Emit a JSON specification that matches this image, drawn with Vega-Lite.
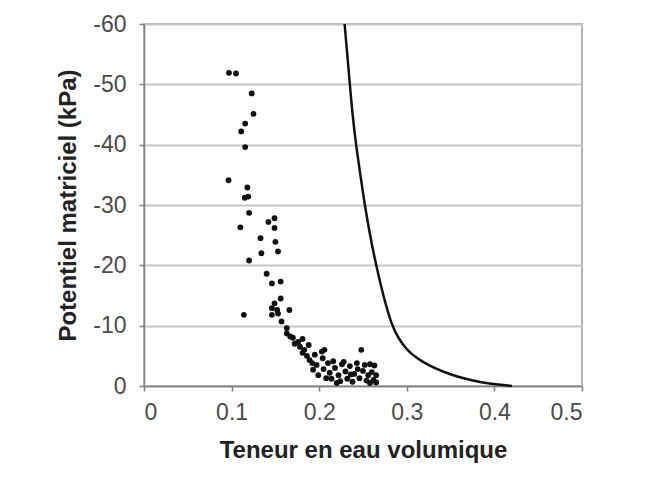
{
  "$schema": "https://vega.github.io/schema/vega-lite/v6.json",
  "autosize": "none",
  "width": 438,
  "height": 362,
  "padding": {"left": 144, "top": 24, "right": 68, "bottom": 105},
  "background": "white",
  "config": {
    "view": {"stroke": "#b4b4b4", "strokeWidth": 2},
    "font": "Liberation Sans",
    "axis": {
      "labelFont": "Liberation Sans",
      "titleFont": "Liberation Sans",
      "labelFontSize": 23,
      "titleFontSize": 24,
      "labelColor": "#4a4a4a",
      "titleColor": "#222222",
      "titleFontWeight": "bold",
      "domainColor": "#808080",
      "domainWidth": 1.5,
      "tickColor": "#808080",
      "tickWidth": 1.5,
      "tickSize": 5,
      "gridColor": "#c4c4c4",
      "gridWidth": 2
    }
  },
  "datasets": {
    "mesures": [
      {"theta": 0.097, "psi": -51.9}, {"theta": 0.105, "psi": -51.8}, {"theta": 0.123, "psi": -48.5},
      {"theta": 0.125, "psi": -45.1}, {"theta": 0.1155, "psi": -43.5}, {"theta": 0.111, "psi": -42.2},
      {"theta": 0.1155, "psi": -39.6}, {"theta": 0.0965, "psi": -34.1}, {"theta": 0.118, "psi": -32.9},
      {"theta": 0.119, "psi": -31.4}, {"theta": 0.115, "psi": -31.2}, {"theta": 0.12, "psi": -28.7},
      {"theta": 0.11, "psi": -26.3}, {"theta": 0.142, "psi": -27.2}, {"theta": 0.149, "psi": -27.8},
      {"theta": 0.149, "psi": -26.2}, {"theta": 0.133, "psi": -24.5}, {"theta": 0.150, "psi": -23.9},
      {"theta": 0.153, "psi": -22.3}, {"theta": 0.134, "psi": -22.0}, {"theta": 0.120, "psi": -20.8},
      {"theta": 0.140, "psi": -18.6}, {"theta": 0.146, "psi": -17.0}, {"theta": 0.156, "psi": -17.3},
      {"theta": 0.156, "psi": -14.5}, {"theta": 0.149, "psi": -13.7}, {"theta": 0.166, "psi": -12.6},
      {"theta": 0.146, "psi": -12.9}, {"theta": 0.152, "psi": -12.6}, {"theta": 0.114, "psi": -11.8},
      {"theta": 0.146, "psi": -11.8}, {"theta": 0.153, "psi": -12.0}, {"theta": 0.157, "psi": -10.7},
      {"theta": 0.163, "psi": -9.6}, {"theta": 0.163, "psi": -8.7}, {"theta": 0.170, "psi": -8.0},
      {"theta": 0.176, "psi": -7.3}, {"theta": 0.181, "psi": -7.8}, {"theta": 0.188, "psi": -6.8},
      {"theta": 0.183, "psi": -6.0}, {"theta": 0.181, "psi": -5.5}, {"theta": 0.189, "psi": -4.3},
      {"theta": 0.195, "psi": -5.2}, {"theta": 0.203, "psi": -5.7}, {"theta": 0.204, "psi": -4.6},
      {"theta": 0.193, "psi": -2.7}, {"theta": 0.197, "psi": -3.5}, {"theta": 0.199, "psi": -1.8},
      {"theta": 0.206, "psi": -6.0}, {"theta": 0.210, "psi": -3.8}, {"theta": 0.212, "psi": -2.2},
      {"theta": 0.214, "psi": -1.2}, {"theta": 0.218, "psi": -3.0}, {"theta": 0.222, "psi": -1.8},
      {"theta": 0.224, "psi": -0.8}, {"theta": 0.226, "psi": -3.6}, {"theta": 0.230, "psi": -2.4},
      {"theta": 0.232, "psi": -1.2}, {"theta": 0.235, "psi": -3.3}, {"theta": 0.238, "psi": -0.7},
      {"theta": 0.240, "psi": -2.0}, {"theta": 0.243, "psi": -3.8}, {"theta": 0.246, "psi": -1.3},
      {"theta": 0.248, "psi": -6.0}, {"theta": 0.250, "psi": -2.5}, {"theta": 0.252, "psi": -3.5},
      {"theta": 0.254, "psi": -0.9}, {"theta": 0.256, "psi": -1.8}, {"theta": 0.258, "psi": -3.6},
      {"theta": 0.260, "psi": -2.3}, {"theta": 0.262, "psi": -1.0}, {"theta": 0.263, "psi": -3.4},
      {"theta": 0.265, "psi": -1.8}, {"theta": 0.265, "psi": -0.6}, {"theta": 0.205, "psi": -2.8},
      {"theta": 0.208, "psi": -1.3}, {"theta": 0.216, "psi": -4.1}, {"theta": 0.228, "psi": -4.0},
      {"theta": 0.244, "psi": -2.8}, {"theta": 0.258, "psi": -0.5}, {"theta": 0.236, "psi": -1.9},
      {"theta": 0.220, "psi": -0.5}, {"theta": 0.186, "psi": -5.0}, {"theta": 0.192, "psi": -3.8},
      {"theta": 0.178, "psi": -6.5}, {"theta": 0.172, "psi": -7.0}, {"theta": 0.167, "psi": -8.2}
    ],
    "modele": [
      {"theta": 0.229, "psi": -60}, {"theta": 0.232, "psi": -55}, {"theta": 0.235, "psi": -50},
      {"theta": 0.238, "psi": -45}, {"theta": 0.242, "psi": -40}, {"theta": 0.247, "psi": -35},
      {"theta": 0.252, "psi": -30}, {"theta": 0.258, "psi": -25}, {"theta": 0.265, "psi": -20},
      {"theta": 0.273, "psi": -15}, {"theta": 0.283, "psi": -10}, {"theta": 0.29, "psi": -8},
      {"theta": 0.3, "psi": -6}, {"theta": 0.308, "psi": -5}, {"theta": 0.318, "psi": -4},
      {"theta": 0.331, "psi": -3}, {"theta": 0.348, "psi": -2}, {"theta": 0.366, "psi": -1.2},
      {"theta": 0.385, "psi": -0.6}, {"theta": 0.405, "psi": -0.2}, {"theta": 0.42, "psi": 0}
    ]
  },
  "encoding": {
    "x": {
      "field": "theta", "type": "quantitative",
      "scale": {"domain": [0, 0.5], "nice": false},
      "axis": {
        "title": "Teneur en eau volumique",
        "values": [0, 0.1, 0.2, 0.3, 0.4, 0.5],
        "format": "~g",
        "grid": false,
        "labelPadding": 10,
        "titlePadding": 14
      }
    },
    "y": {
      "field": "psi", "type": "quantitative",
      "scale": {"domain": [0, -60], "nice": false},
      "axis": {
        "title": "Potentiel matriciel (kPa)",
        "values": [0, -10, -20, -30, -40, -50, -60],
        "labelExpr": "replace(datum.label, '\u2212', '-')",
        "grid": true,
        "labelPadding": 13,
        "titlePadding": 12
      }
    }
  },
  "layer": [
    {
      "data": {"name": "mesures"},
      "mark": {"type": "circle", "color": "#111111", "opacity": 1, "size": 34}
    },
    {
      "data": {"name": "modele"},
      "mark": {"type": "line", "color": "#111111", "strokeWidth": 2.5, "interpolate": "basis"}
    }
  ]
}
